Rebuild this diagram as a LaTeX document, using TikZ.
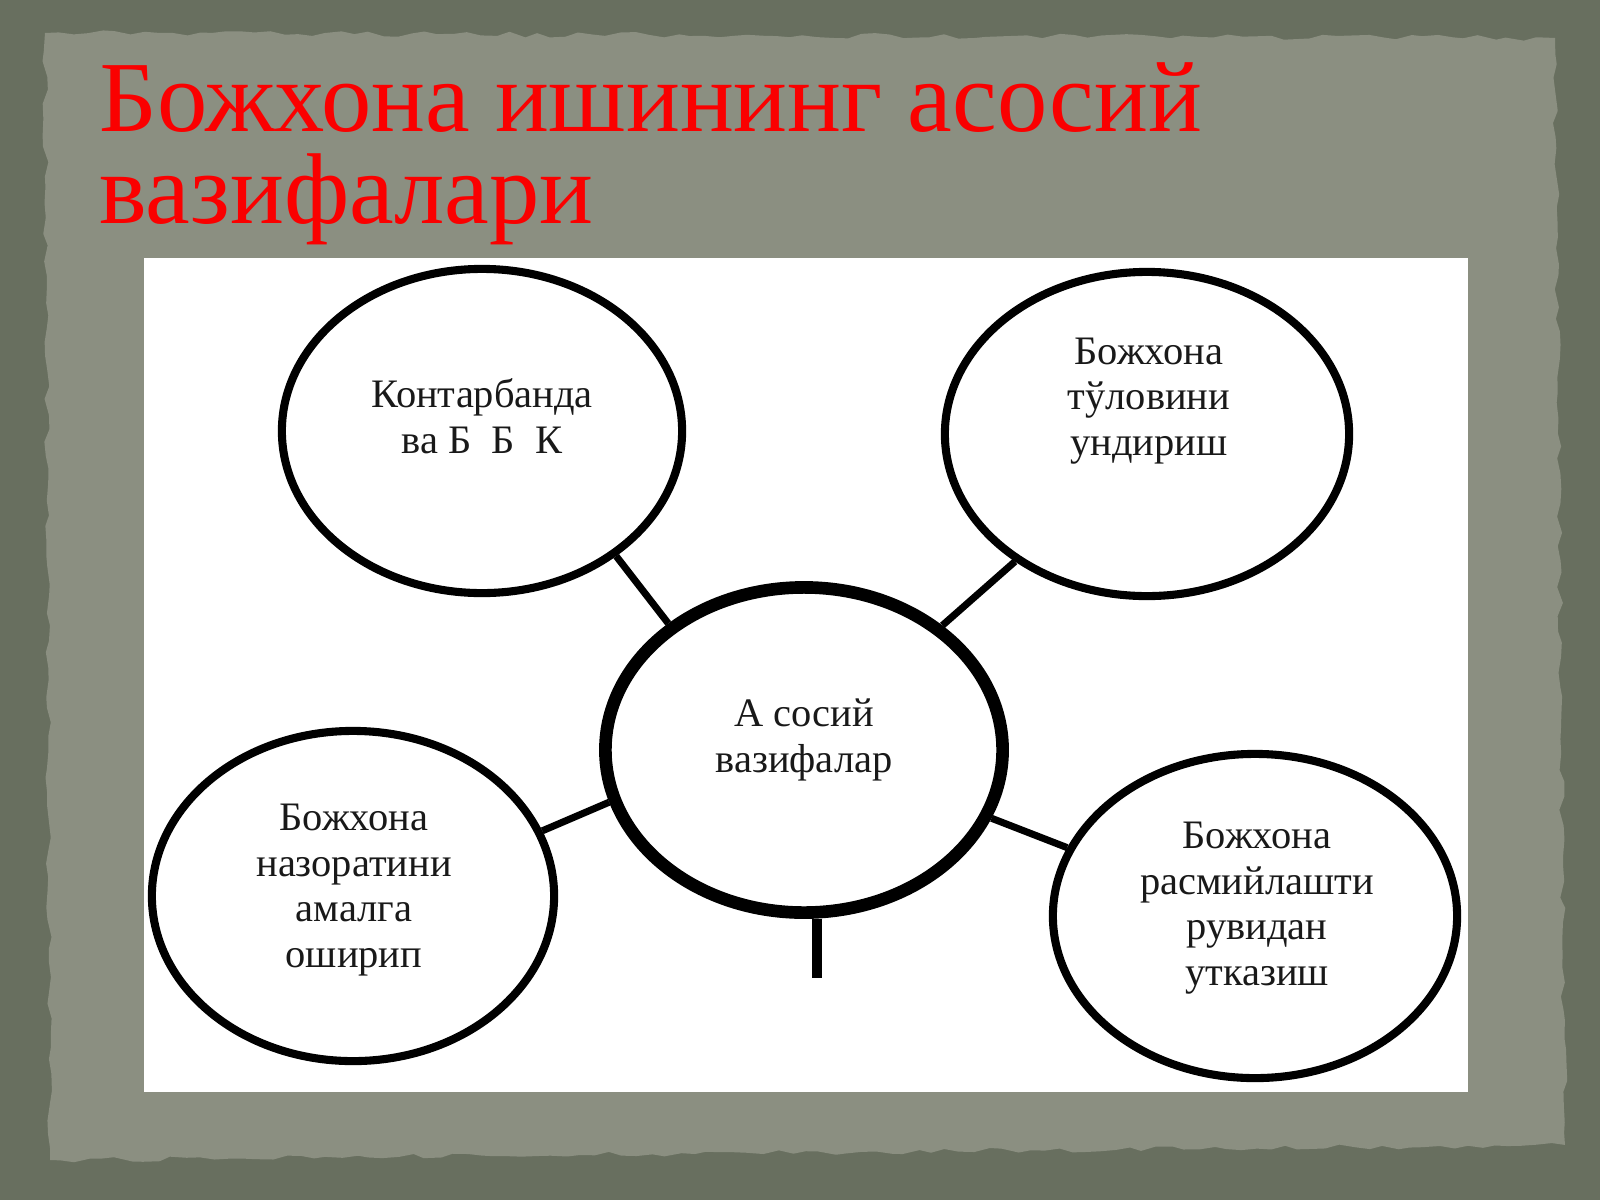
\documentclass[tikz,border=0pt]{standalone}
\usepackage{fontspec}
\setmainfont{Liberation Serif}
\usetikzlibrary{shapes.geometric,decorations.pathmorphing}
\definecolor{board}{RGB}{104,111,95}
\definecolor{paper}{RGB}{139,143,129}
\definecolor{titlered}{RGB}{250,0,0}
\tikzset{
  task/.style={draw,ellipse,line width=2.3pt,inner sep=0pt,minimum width=4cm,minimum height=3.24cm},
  core/.style={task,line width=3.6pt,minimum width=3.97cm,minimum height=3.25cm},
  link/.style={line width=2pt},
  tasktext/.style={align=center,anchor=base,inner sep=0pt,text=black!90,font=\fontsize{11.5}{12.9}\selectfont}
}
\begin{document}
\begin{tikzpicture}[x=0.01cm,y=-0.01cm]
\useasboundingbox (0,0) rectangle (1600,1200);
\fill[board] (0,0) rectangle (1600,1200);
\pgfmathsetseed{7}
\fill[paper,decorate,decoration={random steps,segment length=4pt,amplitude=0.8pt}] (45,33) -- (1555,38) -- (1565,1145) -- (50,1160) -- cycle;
\fill[white] (144,258) rectangle (1468,1092);
\node[anchor=base west,align=left,inner sep=0pt,text=titlered,font=\fontsize{28.6}{25.9}\selectfont] (title) at (99,223) {Божхона ишининг асосий\\вазифалари};
\node[task] (tl) at (482,431) {};
\node[task,minimum width=4.04cm] (tr) at (1147,434) {};
\node[core] (c) at (804,750) {};
\node[task,minimum width=4.02cm,minimum height=3.3cm] (bl) at (353,896) {};
\node[task,minimum width=4.04cm] (br) at (1255,916) {};
\draw[link] (tl.-43) -- (c.137);
\draw[link] (tr.224) -- (c.42);
\draw[link] (bl.19) -- (c.195);
\draw[link] (br.160) -- (c.-20);
\coordinate (tail) at (817,978);
\draw[line width=2.8pt] (c.south -| tail) -- (tail);
\node[tasktext] (tltext) at (482,453) {Контарбанда\\ва Б\enspace Б\enspace К};
\node[tasktext] (trtext) at (1149,455) {Божхона\\тўловини\\ундириш};
\node[tasktext] (ctext) at (804,772) {А сосий\\вазифалар};
\node[tasktext] (bltext) at (354,967) {Божхона\\назоратини\\амалга\\оширип};
\node[tasktext] (brtext) at (1257,985) {Божхона\\расмийлашти\\рувидан\\утказиш};
\end{tikzpicture}
\end{document}
